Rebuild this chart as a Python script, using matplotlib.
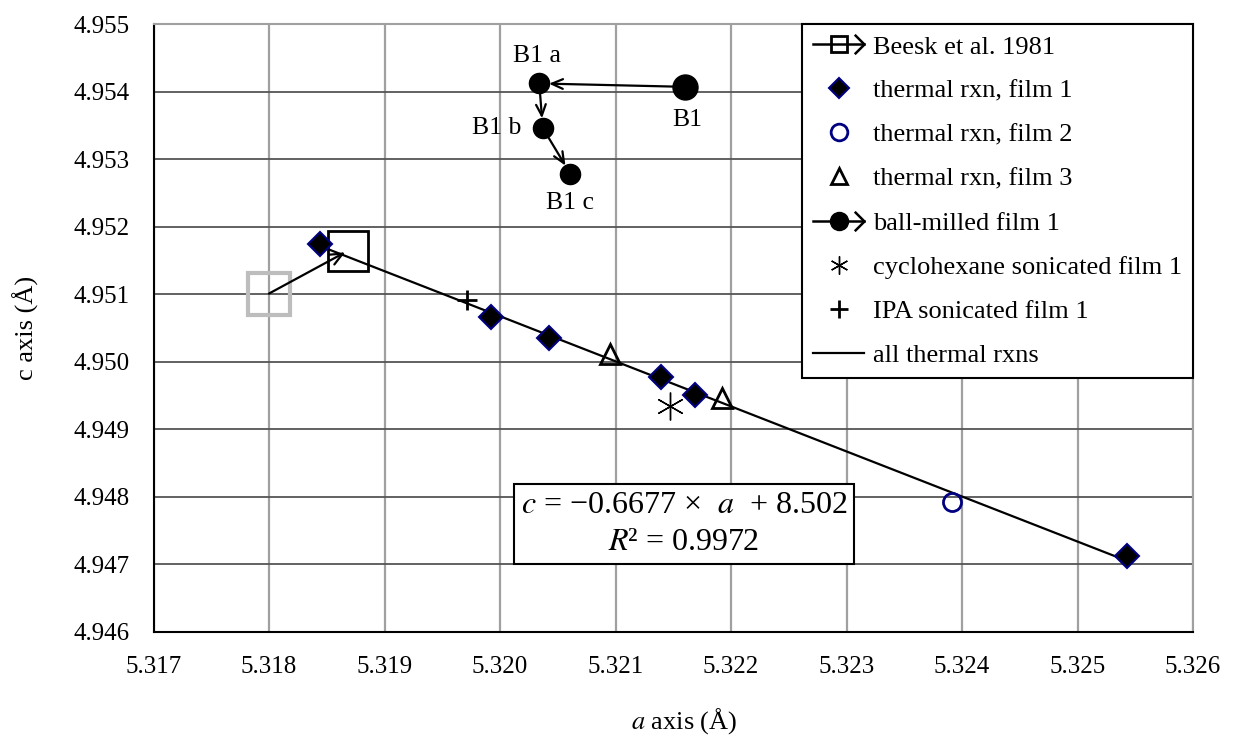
import numpy as np
import matplotlib
matplotlib.use("Agg")
import matplotlib.pyplot as plt
from matplotlib.lines import Line2D
from matplotlib.path import Path
from matplotlib.legend_handler import HandlerBase

plt.rcParams['font.family'] = ['Liberation Serif', 'DejaVu Serif']
plt.rcParams['mathtext.fontset'] = 'stix'

# data (a axis, c axis in Angstrom)
beesk_a = [5.3180, 5.31868]
beesk_c = [4.95101, 4.95164]
film1_a = [5.31844, 5.31992, 5.32042, 5.32139, 5.32169, 5.32543]
film1_c = [4.95175, 4.95066, 4.95035, 4.94977, 4.94951, 4.94713]
film2_a = [5.32391]
film2_c = [4.94793]
film3_a = [5.32095, 5.32192]
film3_c = [4.95012, 4.94946]
ball_a = [5.32160, 5.32034, 5.32037, 5.32061]
ball_c = [4.95407, 4.95412, 4.95346, 4.95278]
ball_labels = ["B1", "B1 a", "B1 b", "B1 c"]
cyclo_a = [5.32147]
cyclo_c = [4.94935]
ipa_a = [5.31971]
ipa_c = [4.95092]

x_ticks = np.arange(5.317, 5.3261, 0.001)
y_ticks = np.arange(4.946, 4.9551, 0.001)

chevron = Path([(-1, 1), (0, 0), (-1, -1)], [Path.MOVETO, Path.LINETO, Path.LINETO])


class ArrowHandler(HandlerBase):
    # legend entry: line + marker in the middle + open arrow head at the end
    def __init__(self, marker_kw):
        super().__init__()
        self.marker_kw = marker_kw

    def create_artists(self, legend, orig_handle, xdescent, ydescent,
                       width, height, fontsize, trans):
        y = height / 2 - ydescent
        x0, x1 = -xdescent, width - xdescent
        line = Line2D([x0, x1], [y, y], color='k', lw=1.8)
        mk = Line2D([(x0 + x1) / 2], [y], linestyle='none', **self.marker_kw)
        head = Line2D([x1], [y], marker=chevron, ms=14, mfc='none',
                      mec='k', mew=1.8, linestyle='none')
        for art in (line, mk, head):
            art.set_transform(trans)
        return [line, mk, head]


fig = plt.figure(figsize=(12.33, 7.41), dpi=100)
ax = fig.add_axes([0.1245, 0.1471, 0.8431, 0.8205])

# fit over all thermal reactions
th_a = np.array(film1_a + film2_a + film3_a)
th_c = np.array(film1_c + film2_c + film3_c)
k, b = np.polyfit(th_a, th_c, 1)
fit_x = np.array([th_a.min(), th_a.max()])
ax.plot(fit_x, k * fit_x + b, color='k', lw=1.6, zorder=3)

# Beesk et al. 1981
ax.plot(beesk_a[:1], beesk_c[:1], 's', ms=30, mfc='none', mec='#bdbdbd', mew=3, zorder=4)
ax.plot(beesk_a[1:], beesk_c[1:], 's', ms=29, mfc='none', mec='k', mew=2, zorder=4)
ax.annotate('', xy=(beesk_a[1], beesk_c[1]), xytext=(beesk_a[0], beesk_c[0]),
            arrowprops=dict(arrowstyle='->,head_length=0.9,head_width=0.4', color='k',
                            lw=1.6, shrinkA=0, shrinkB=2), zorder=5)

ax.plot(film1_a, film1_c, 'D', ms=12, mfc='k', mec='#000080', mew=1.5, zorder=5)
ax.plot(film2_a, film2_c, 'o', ms=13, mfc='none', mec='#000080', mew=2, zorder=5)
ax.plot(film3_a, film3_c, '^', ms=14, mfc='none', mec='k', mew=2, zorder=5)
ax.plot(cyclo_a, cyclo_c, marker=(6, 2, 0), ms=20, color='k', mew=1, linestyle='none', zorder=5)
ax.plot(ipa_a, ipa_c, '+', ms=15, color='k', mew=2, zorder=5)

# ball-milled sequence
sizes = [18, 14.5, 14.5, 14.5]
for a, c, s in zip(ball_a, ball_c, sizes):
    ax.plot(a, c, 'o', ms=s, color='k', zorder=5)
for i in range(len(ball_a) - 1):
    ax.annotate('', xy=(ball_a[i + 1], ball_c[i + 1]), xytext=(ball_a[i], ball_c[i]),
                arrowprops=dict(arrowstyle='->,head_length=0.8,head_width=0.35', color='k',
                                lw=1.6, shrinkA=8, shrinkB=7), zorder=4)

label_offsets = [(2, -24), (-2, 20), (-33, 0), (0, -21)]
for a, c, lab, off in zip(ball_a, ball_c, ball_labels, label_offsets):
    ax.annotate(lab, (a, c), xytext=off, textcoords='offset points',
                ha='center', va='center', fontsize=18.5)

ax.set_xlim(5.317, 5.326)
ax.set_ylim(4.946, 4.955)
ax.set_xticks(x_ticks)
ax.set_yticks(y_ticks)
ax.set_xticklabels([f"{v:.3f}" for v in x_ticks])
ax.set_yticklabels([f"{v:.3f}" for v in y_ticks])
ax.tick_params(length=0, labelsize=18, pad=17)
ax.xaxis.grid(True, color='#a0a0a0', lw=1.6)
ax.yaxis.grid(True, color='#555555', lw=1.3)
ax.set_axisbelow(True)
for side in ('left', 'bottom'):
    ax.spines[side].set_color('k')
    ax.spines[side].set_linewidth(1.5)
for side in ('top', 'right'):
    ax.spines[side].set_color('#a0a0a0')
    ax.spines[side].set_linewidth(1.5)

ax.set_xlabel(r"$a$ axis (Å)", fontsize=19)
ax.set_ylabel("c axis (Å)", fontsize=19)
ax.xaxis.set_label_coords(0.5103, -0.122)
ax.yaxis.set_label_coords(-0.110, 0.5)

ax.text(0.5103, 0.1776, "$c$ = −0.6677 ×  $a$  + 8.502\n$R$² = 0.9972",
        transform=ax.transAxes, ha='center', va='center', fontsize=23,
        linespacing=1.35, zorder=6,
        bbox=dict(boxstyle='square,pad=0.22', fc='white', ec='k', lw=1.5))

# legend
h_beesk = Line2D([], [], color='k')
h_ball = Line2D([], [], color='k', marker='o')
handles = [
    h_beesk,
    Line2D([], [], linestyle='none', marker='D', ms=10, mfc='k', mec='#000080', mew=1.5),
    Line2D([], [], linestyle='none', marker='o', ms=12, mfc='none', mec='#000080', mew=2),
    Line2D([], [], linestyle='none', marker='^', ms=12, mfc='none', mec='k', mew=2),
    h_ball,
    Line2D([], [], linestyle='none', marker=(6, 2, 0), ms=13, color='k', mew=1),
    Line2D([], [], linestyle='none', marker='+', ms=13, color='k', mew=2),
    Line2D([], [], color='k', lw=1.6),
]
labels = ["Beesk et al. 1981", "thermal rxn, film 1", "thermal rxn, film 2",
          "thermal rxn, film 3", "ball-milled film 1", "cyclohexane sonicated film 1",
          "IPA sonicated film 1", "all thermal rxns"]
leg = ax.legend(handles, labels, loc='upper right', bbox_to_anchor=(1, 1),
                borderaxespad=0, fontsize=19, handlelength=1.9, handletextpad=0.35,
                labelspacing=0.78, borderpad=0.42, fancybox=False, framealpha=1,
                edgecolor='k',
                handler_map={
                    h_beesk: ArrowHandler(dict(marker='s', ms=12, mfc='none', mec='k', mew=2)),
                    h_ball: ArrowHandler(dict(marker='o', ms=13, color='k')),
                })
leg.get_frame().set_linewidth(1.5)
leg.set_zorder(10)

fig.savefig("out.png", dpi=100)
